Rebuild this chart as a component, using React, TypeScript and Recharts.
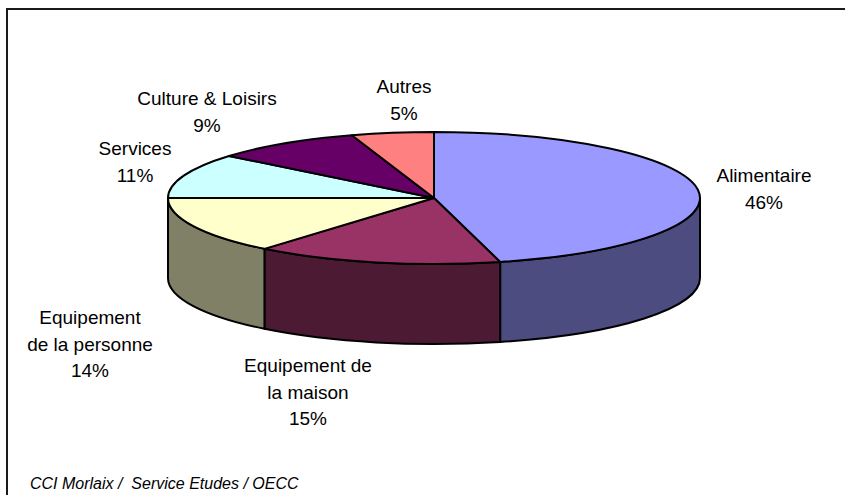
import React from 'react';
import { PieChart, Pie } from 'recharts';

const categories = [
  'Alimentaire',
  'Equipement de la maison',
  'Equipement de la personne',
  'Services',
  'Culture & Loisirs',
  'Autres',
];
const shares = [46, 15, 14, 11, 9, 5];
const labelLines = [
  ['Alimentaire'],
  ['Equipement de', 'la maison'],
  ['Equipement', 'de la personne'],
  ['Services'],
  ['Culture & Loisirs'],
  ['Autres'],
];
const topColors = ['#9999FF', '#993366', '#FFFFCC', '#CCFFFF', '#660066', '#FF8080'];
const sideColors = ['#4C4C80', '#4C1A33', '#808066', '#668080', '#330033', '#804040'];
const sourceText = 'CCI Morlaix /  Service Etudes / OECC';

const data = categories.map((name, i) => ({
  name,
  value: shares[i],
  lines: labelLines[i],
  top: topColors[i],
  side: sideColors[i],
}));

// layout
const W = 845;
const H = 495;
const CX = 434;
const CY = 198;
const RX = 266;
const RY = 66;
const DEPTH = 80;
const LABEL_POS: [number, number][] = [
  [764, 175],
  [308, 365],
  [90, 317],
  [135, 148],
  [207, 98],
  [404, 86],
];
const FONT = '"Liberation Sans", Arial, sans-serif';

const pt = (cx: number, cy: number, rx: number, ry: number, deg: number) => {
  const r = (deg * Math.PI) / 180;
  return [cx + rx * Math.cos(r), cy - ry * Math.sin(r)];
};

const TopShape = (props: any) => {
  const { cx, cy, outerRadius, startAngle, endAngle, payload } = props;
  const rx = outerRadius;
  const ry = (outerRadius * RY) / RX;
  const [x1, y1] = pt(cx, cy, rx, ry, startAngle);
  const [x2, y2] = pt(cx, cy, rx, ry, endAngle);
  const large = Math.abs(startAngle - endAngle) > 180 ? 1 : 0;
  const d = `M${cx},${cy} L${x1},${y1} A${rx},${ry} 0 ${large} 1 ${x2},${y2} Z`;
  return (
    <path
      d={d}
      fill={payload.top}
      stroke="#000"
      strokeWidth={2}
      strokeLinejoin="round"
    />
  );
};

const WallShape = (props: any) => {
  const { cx, cy, outerRadius, startAngle, endAngle, payload } = props;
  const rx = outerRadius;
  const ry = (outerRadius * RY) / RX;
  const hi = Math.min(Math.max(startAngle, endAngle), 0);
  const lo = Math.max(Math.min(startAngle, endAngle), -180);
  if (!(lo < hi)) return <g />;
  const [x1, y1] = pt(cx, cy, rx, ry, hi);
  const [x2, y2] = pt(cx, cy, rx, ry, lo);
  const d = `M${x1},${y1} A${rx},${ry} 0 0 1 ${x2},${y2} L${x2},${y2 + DEPTH} A${rx},${ry} 0 0 0 ${x1},${y1 + DEPTH} Z`;
  return (
    <path
      d={d}
      fill={payload.side}
      stroke="#000"
      strokeWidth={2}
      strokeLinejoin="round"
    />
  );
};

const renderLabel = (props: any) => {
  const idx = props.index;
  const item = data[idx];
  const [x, y0] = LABEL_POS[idx];
  const lines = [...item.lines, `${item.value}%`];
  return (
    <text
      key={`lbl-${idx}`}
      x={x}
      y={y0}
      textAnchor="middle"
      fontFamily={FONT}
      fontSize={19}
      fill="#000"
    >
      {lines.map((l, i) => (
        <tspan key={i} x={x} y={y0 + 7 + i * 26.5}>
          {l}
        </tspan>
      ))}
    </text>
  );
};

export default function App() {
  return (
    <div style={{ position: 'absolute', left: 0, top: 0, width: W, height: H, background: '#fff' }}>
      <div
        style={{
          position: 'absolute',
          left: 6,
          top: 8,
          width: W - 6,
          height: H - 8,
          borderTop: '2px solid #1a1a1a',
          borderLeft: '2px solid #1a1a1a',
          boxSizing: 'border-box',
        }}
      />
      <div style={{ position: 'absolute', left: 0, top: 0 }}>
        <PieChart width={W} height={H} margin={{ top: 0, right: 0, bottom: 0, left: 0 }}>
          <Pie
            data={data}
            dataKey="value"
            nameKey="name"
            cx={CX}
            cy={CY}
            outerRadius={RX}
            startAngle={90}
            endAngle={-270}
            isAnimationActive={false}
            shape={WallShape}
            activeShape={WallShape}
            inactiveShape={WallShape}
            label={false}
            labelLine={false}
          />
          <Pie
            data={data}
            dataKey="value"
            nameKey="name"
            cx={CX}
            cy={CY}
            outerRadius={RX}
            startAngle={90}
            endAngle={-270}
            isAnimationActive={false}
            shape={TopShape}
            activeShape={TopShape}
            inactiveShape={TopShape}
            label={renderLabel}
            labelLine={false}
          />
        </PieChart>
      </div>
      <div
        style={{
          position: 'absolute',
          left: 30,
          top: 474,
          fontFamily: FONT,
          fontStyle: 'italic',
          fontSize: 16,
          lineHeight: '20px',
          color: '#000',
          whiteSpace: 'pre',
        }}
      >
        {sourceText}
      </div>
    </div>
  );
}
